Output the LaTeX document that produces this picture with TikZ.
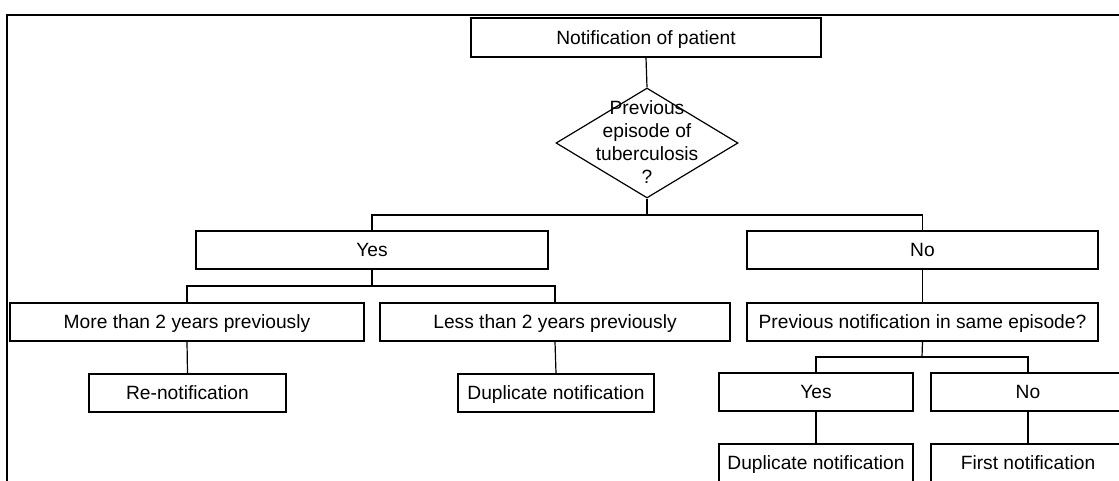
\documentclass[tikz,border=0pt]{standalone}
\usepackage{fontspec}
\setmainfont{Liberation Sans}
\usetikzlibrary{shapes.geometric}
\begin{document}
\begin{tikzpicture}[x=0.5pt,y=-0.5pt,
  every node/.style={font=\fontsize{9.6}{11.5}\selectfont},
  bx/.style={draw, line width=0.6pt, inner sep=0pt, minimum height=19pt, text height=6.9pt, text depth=0pt},
  dia/.style={draw, diamond, line width=0.6pt, inner sep=0pt, minimum width=91pt, minimum height=55pt},
  ln/.style={line width=0.6pt}]
\useasboundingbox (0,0) rectangle (1119,481);
\draw[line width=0.7pt] (7,15) rectangle (1130,500);
\node[bx, minimum width=175pt, minimum height=19.5pt] (top) at (646,37.5) {Notification of patient};
\node[dia] (d) at (647,143) {};
\node[align=center, inner sep=0pt] (dt) at (647,142) {Previous\\episode of\\tuberculosis\\?};
\node[bx, minimum width=176pt] (yes1) at (372,250) {Yes};
\node[bx, minimum width=175.5pt] (no1) at (922.5,250) {No};
\node[bx, minimum width=177pt] (more) at (187,322) {More than 2 years previously};
\node[bx, minimum width=175pt] (less) at (555,322) {Less than 2 years previously};
\node[bx, minimum width=98.5pt] (renot) at (187.5,393) {Re-notification};
\node[bx, minimum width=98pt] (dup1) at (556,393) {Duplicate notification};
\node[bx, minimum width=175.5pt] (prev) at (922.5,322) {Previous notification in same episode?};
\node[bx, minimum width=97pt] (yes2) at (816,392) {Yes};
\node[bx, minimum width=97pt] (no2) at (1028,392) {No};
\node[bx, minimum width=97pt] (dup2) at (816,463) {Duplicate notification};
\node[bx, minimum width=97pt] (first) at (1028,463) {First notification};
\coordinate (j1) at (647,215);
\coordinate (j2) at (372,286);
\coordinate (j3) at (922,357);
\draw[ln] (top.south) -- (d.north);
\draw[ln] (d.south) -- (j1);
\draw[ln] (yes1.north) |- (j1) -| (no1.north);
\draw[ln] (yes1.south) -- (j2);
\draw[ln] (more.north) |- (j2) -| (less.north);
\draw[ln] (more.south) -- (renot.north);
\draw[ln] (less.south) -- (dup1.north);
\draw[ln] (no1.south) -- (prev.north);
\draw[ln] (prev.south) -- (j3);
\draw[ln] (yes2.north) |- (j3) -| (no2.north);
\draw[ln] (yes2.south) -- (dup2.north);
\draw[ln] (no2.south) -- (first.north);
\end{tikzpicture}
\end{document}
